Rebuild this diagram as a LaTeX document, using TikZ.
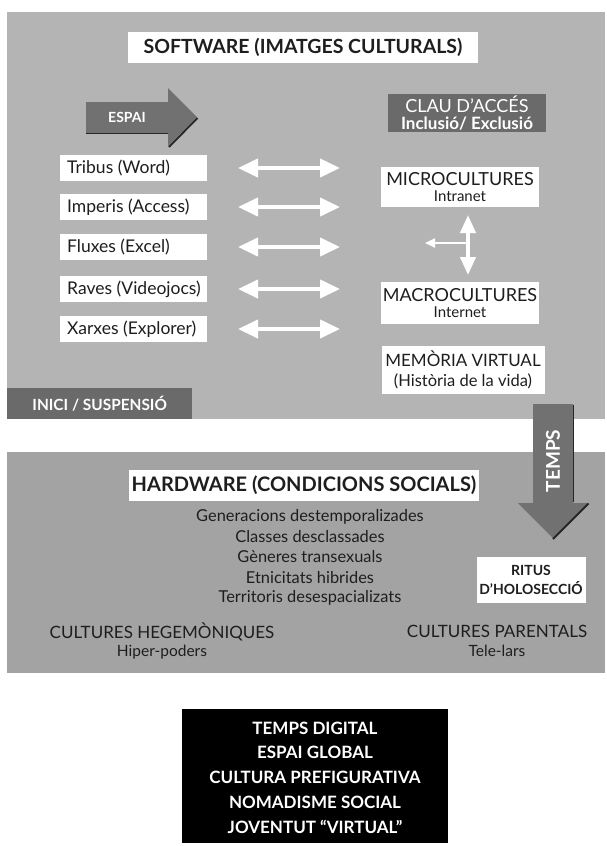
\documentclass[tikz,border=0pt]{standalone}
\usepackage{fontspec}
\setmainfont{Lato}
\usetikzlibrary{arrows.meta}
\definecolor{panelA}{HTML}{B4B4B4}
\definecolor{panelB}{HTML}{A3A3A3}
\definecolor{darkbox}{HTML}{6A6A6A}
\definecolor{arrowfill}{HTML}{717171}
\definecolor{ink}{HTML}{1E1E1E}
\begin{document}
\begin{tikzpicture}[x=1pt,y=-1pt,
  whitebox/.style={fill=white, inner sep=0pt, text=ink, align=center},
  darkbx/.style={fill=darkbox, inner sep=0pt, text=white, align=center},
  leftbox/.style={fill=white, inner xsep=0pt, inner ysep=0pt, text=ink, anchor=west,
     minimum width=147pt, minimum height=26pt, font=\fontsize{17.5}{19}\selectfont},
  plain/.style={inner sep=0pt, text=ink, align=center},
  midtext/.style={plain, font=\fontsize{16.4}{18}\selectfont},
  dblarrow/.style={white, line width=4pt,
     {Triangle[length=20pt,width=18pt]}-{Triangle[length=20pt,width=18pt]}},
  bigarrow/.style={fill=arrowfill},
  shadowline/.style={draw=black!85, line width=1.8pt}
]
\newcommand{\leftlbl}[1]{\makebox[147pt][l]{\hspace*{7pt}#1}}
\useasboundingbox (0,0) rectangle (607,846);
\fill[white] (0,0) rectangle (607,846);

% panels
\fill[panelA] (7,12) rectangle (605,419);
\fill[panelB] (7,452) rectangle (605,673);

% software title
\node[whitebox, minimum width=350pt, minimum height=31pt,
  font=\fontsize{19.5}{22}\selectfont\bfseries] (sw) at (303,47) {SOFTWARE (IMATGES CULTURALS)};

% ESPAI arrow
\fill[bigarrow] (86,102) -- (168,102) -- (168,88) -- (197,117) -- (168,146) -- (168,133) -- (86,133) -- cycle;
\draw[shadowline] (86,133.5) -- (168,133.5);
\draw[shadowline] (197.5,118) -- (169,147);
\node[plain, text=white, font=\fontsize{14}{16}\selectfont\bfseries] (espai) at (127,117) {ESPAI};

% clau d'acces
\node[darkbx, minimum width=158pt, minimum height=38pt, font=\fontsize{18}{16.5}\selectfont] (clau) at (467,113)
  {CLAU D'ACCÉS\\{\fontsize{17}{16.5}\selectfont\bfseries Inclusió/ Exclusió}};

% left boxes
\node[leftbox] (l1) at (60,168) {\leftlbl{Tribus (Word)}};
\node[leftbox] (l2) at (60,207) {\leftlbl{Imperis (Access)}};
\node[leftbox] (l3) at (60,247) {\leftlbl{Fluxes (Excel)}};
\node[leftbox] (l4) at (60,289) {\leftlbl{Raves (Videojocs)}};
\node[leftbox] (l5) at (60,329) {\leftlbl{Xarxes (Explorer)}};

% double arrows
\foreach \i/\yy in {1/168,2/207,3/247,4/289,5/329}{
  \coordinate (da\i) at (238,\yy);
  \coordinate (db\i) at (340,\yy);
  \draw[dblarrow] (da\i) -- (db\i);
}

% right column
\node[whitebox, minimum width=158pt, minimum height=40pt, font=\fontsize{18}{16.5}\selectfont] (micro) at (460,187)
  {MICROCULTURES\\{\fontsize{15}{16.5}\selectfont Intranet}};
\node[whitebox, minimum width=158pt, minimum height=42pt, font=\fontsize{18}{16.5}\selectfont] (macro) at (460,303)
  {MACROCULTURES\\{\fontsize{15}{16.5}\selectfont Internet}};
\node[whitebox, minimum width=163pt, minimum height=48pt, font=\fontsize{17}{20}\selectfont] (mem) at (463,370)
  {MEMÒRIA VIRTUAL\\{\fontsize{16.5}{20}\selectfont (Història de la vida)}};

% cross arrows
\coordinate (vtop) at (468,215);
\coordinate (vbot) at (468,275);
\coordinate (hmid) at (468,243);
\coordinate (hend) at (425,243);
\draw[white, line width=4pt, {Triangle[length=18pt,width=15pt]}-{Triangle[length=18pt,width=15pt]}] (vtop) -- (vbot);
\draw[white, line width=1.8pt, -{Triangle[length=10pt,width=9pt]}] (hmid) -- (hend);

% inici / suspensio
\node[darkbx, minimum width=185pt, minimum height=31pt, anchor=north west,
  font=\fontsize{15.4}{17}\selectfont\bfseries] (inici) at (7,388) {INICI / SUSPENSIÓ};

% TEMPS arrow
\fill[bigarrow] (533,404) -- (573,404) -- (573,503) -- (588,503) -- (553,538) -- (518,503) -- (533,503) -- cycle;
\draw[shadowline] (573.5,405) -- (573.5,502);
\draw[shadowline] (588.5,503.5) -- (553,539);
\node[plain, text=white, rotate=90, font=\fontsize{19}{21}\selectfont\bfseries] (temps) at (553,461) {TEMPS};

% hardware
\node[whitebox, minimum width=350pt, minimum height=31pt,
  font=\fontsize{20}{22}\selectfont\bfseries] (hw) at (304,485) {HARDWARE (CONDICIONS SOCIALS)};
\node[midtext] (g1) at (310,517) {Generacions destemporalizades};
\node[midtext] (g2) at (310,537) {Classes desclassades};
\node[midtext] (g3) at (310,557) {Gèneres transexuals};
\node[midtext] (g4) at (310,578) {Etnicitats hibrides};
\node[midtext] (g5) at (310,598) {Territoris desespacializats};

\node[whitebox, minimum width=109pt, minimum height=46pt,
  font=\fontsize{14}{19}\selectfont\bfseries] (ritus) at (531,580) {RITUS\\D'HOLOSECCIÓ};

\node[plain, font=\fontsize{17}{18.5}\selectfont] (heg) at (162,641)
  {CULTURES HEGEMÒNIQUES\\{\fontsize{15.5}{18.5}\selectfont Hiper-poders}};
\node[plain, font=\fontsize{17}{18.5}\selectfont] (par) at (497,641)
  {CULTURES PARENTALS\\{\fontsize{15.5}{18.5}\selectfont Tele-lars}};

% black box
\fill[black] (182,709) rectangle (448,843);
\node[plain, text=white, font=\fontsize{17}{24.75}\selectfont\bfseries] (final) at (315,777.5)
  {TEMPS DIGITAL\\ESPAI GLOBAL\\CULTURA PREFIGURATIVA\\NOMADISME SOCIAL\\JOVENTUT “VIRTUAL”};
\end{tikzpicture}
\end{document}
